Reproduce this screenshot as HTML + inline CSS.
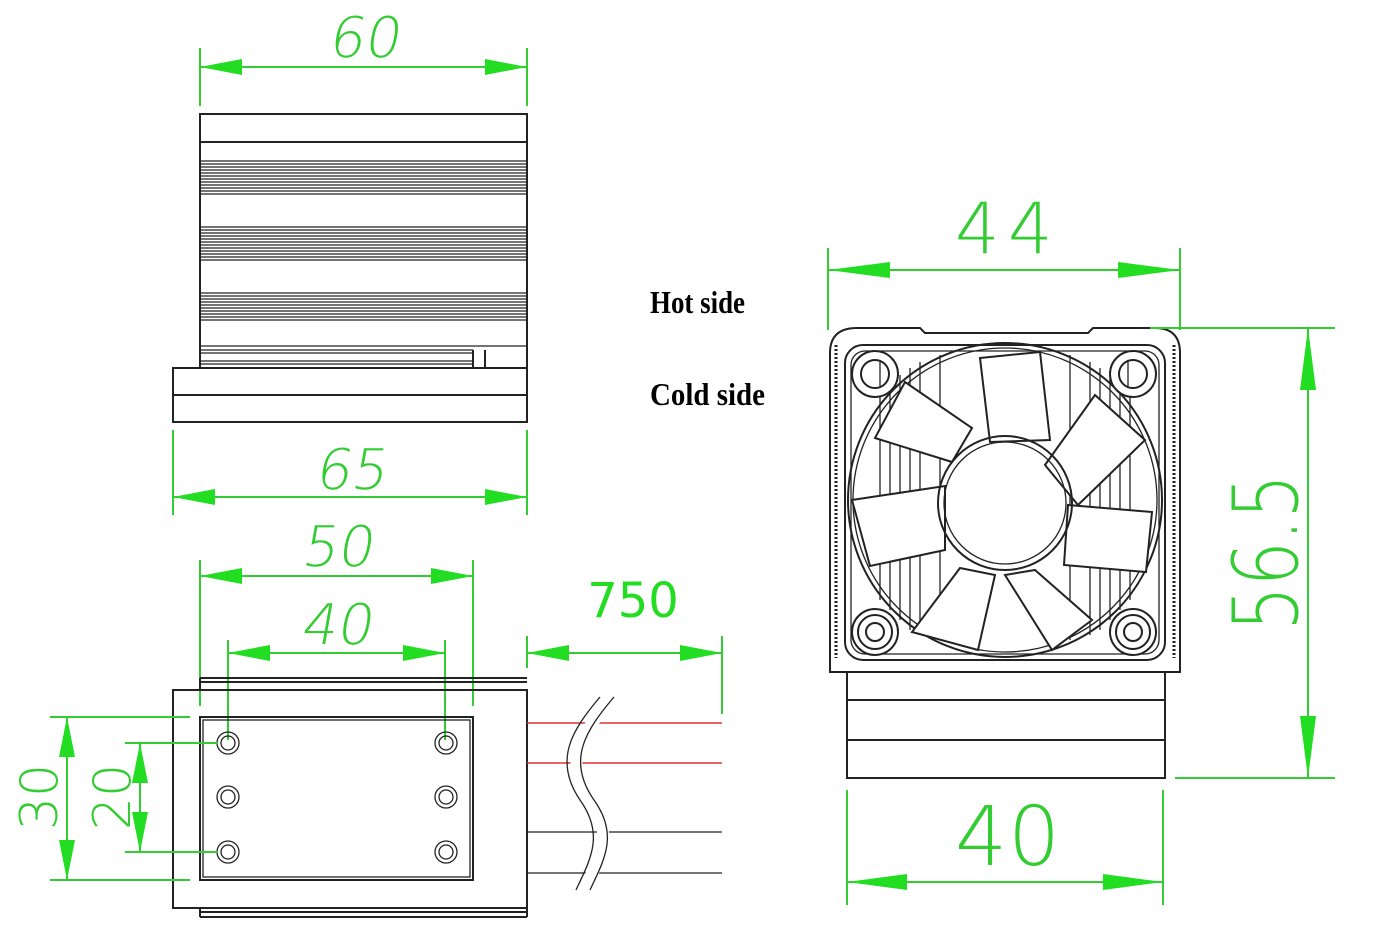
<!DOCTYPE html>
<html><head><meta charset="utf-8"><style>
html,body{margin:0;padding:0;background:#fff;}
svg{display:block}
.d{fill:#3c3;font-family:"DejaVu Sans","Liberation Sans",sans-serif;font-weight:200;font-size:52px;}
.g{stroke:#3c3;stroke-width:2;fill:none}
.a{fill:#2d2}
.k{stroke:#222;stroke-width:2;fill:none}
.t{stroke:#222;stroke-width:1.3;fill:none}
.h{font-family:"Liberation Serif",serif;font-weight:bold;font-size:32px;fill:#000}
</style></head><body>
<svg width="1384" height="930" viewBox="0 0 1384 930" xmlns="http://www.w3.org/2000/svg">
<!-- TOP VIEW -->
<rect x="200" y="114" width="327" height="254" class="k"/>
<line x1="200" y1="142" x2="527" y2="142" class="k"/>
<g class="t">
<path d="M200 161H527M200 164H527M200 167H527M200 170H527M200 173H527M200 176H527M200 179H527M200 182H527M200 185H527M200 188H527M200 191H527M200 194H527"/>
<path d="M200 227H527M200 230H527M200 233H527M200 236H527M200 239H527M200 242H527M200 245H527M200 248H527M200 251H527M200 254H527M200 257H527M200 260H527"/>
<path d="M200 293H527M200 296H527M200 299H527M200 302H527M200 305H527M200 308H527M200 311H527M200 314H527M200 317H527M200 320H527"/>
<path d="M200 346H527M200 350H473M200 353H473M200 361H473M200 364H473"/>
</g>
<path d="M473 350V368M485 350V368" class="k"/>
<rect x="173" y="368" width="354" height="54" class="k"/>
<line x1="173" y1="395" x2="527" y2="395" class="k"/>

<!-- dim 60 -->
<path d="M200 48V106M527 48V106M200 67H527" class="g"/>
<polygon class="a" points="200,67 242,59 242,75"/><polygon class="a" points="527,67 485,59 485,75"/>
<text class="d" x="363" y="57" text-anchor="middle" style="font-size:56px" transform="skewX(-10) translate(10,0)">60</text>
<!-- dim 65 -->
<path d="M173 430V515M527 430V515M173 497H527" class="g"/>
<polygon class="a" points="173,497 215,489 215,505"/><polygon class="a" points="527,497 485,489 485,505"/>
<text class="d" x="350" y="489" text-anchor="middle" style="font-size:56px" transform="skewX(-10) translate(86,0)">65</text>
<!-- dim 50 -->
<path d="M200 560V706M473 560V706M200 576H473" class="g"/>
<polygon class="a" points="200,576 242,568 242,584"/><polygon class="a" points="473,576 431,568 431,584"/>
<text class="d" x="336" y="566" text-anchor="middle" style="font-size:56px" transform="skewX(-10) translate(100,0)">50</text>
<!-- dim 40 -->
<path d="M228 640V740M445 640V740M228 653H445" class="g"/>
<polygon class="a" points="228,653 270,645 270,661"/><polygon class="a" points="445,653 403,645 403,661"/>
<text class="d" x="336" y="644" text-anchor="middle" style="font-size:56px" transform="skewX(-10) translate(113,0)">40</text>
<!-- dim 750 -->
<path d="M527 636V668M722 636V714M527 653H722" class="g"/>
<polygon class="a" points="527,653 569,645 569,661"/><polygon class="a" points="722,653 680,645 680,661"/>
<text x="633" y="617" text-anchor="middle" style="fill:#2d2;font-family:'DejaVu Sans','Liberation Sans',sans-serif;font-size:48px">750</text>

<!-- BOTTOM LEFT VIEW -->
<path d="M200 678H527M200 682H527M200 678V690" class="k"/>
<rect x="173" y="690" width="354" height="218" class="k"/>
<path d="M200 912H527M200 917H527M200 908V917M527 908V917" class="k"/>
<rect x="200" y="717" width="273" height="163" class="k"/>
<rect x="203" y="720" width="267" height="157" class="t"/>
<g class="t">
<circle cx="228" cy="743" r="11"/><circle cx="228" cy="743" r="7"/>
<circle cx="228" cy="797" r="11"/><circle cx="228" cy="797" r="7"/>
<circle cx="228" cy="852" r="11"/><circle cx="228" cy="852" r="7"/>
<circle cx="446" cy="743" r="11"/><circle cx="446" cy="743" r="7"/>
<circle cx="446" cy="797" r="11"/><circle cx="446" cy="797" r="7"/>
<circle cx="446" cy="852" r="11"/><circle cx="446" cy="852" r="7"/>
</g>
<path d="M527 723H722M527 763H722" stroke="#d33" stroke-width="1.5"/>
<path d="M527 832H722M527 873H722" class="t"/>
<path d="M613 697C585 730 560 760 590 800C615 835 600 860 583 890" stroke="#fff" stroke-width="12" fill="none"/>
<path d="M600 697C572 730 553 760 580 800C605 835 590 860 576 890M614 697C586 730 566 760 594 800C619 835 604 860 590 890" class="t"/>
<!-- dim 30 / 20 -->
<path d="M50 717H190M50 880H190M67 717V880M125 743H218M125 852H218M140 743V852" class="g"/>
<polygon class="a" points="67,717 59,757 75,757"/><polygon class="a" points="67,880 59,840 75,840"/>
<polygon class="a" points="140,743 132,783 148,783"/><polygon class="a" points="140,852 132,812 148,812"/>
<text class="d" x="0" y="0" text-anchor="middle" transform="translate(57,797) rotate(-90)">30</text>
<text class="d" x="0" y="0" text-anchor="middle" transform="translate(130,797) rotate(-90)">20</text>

<!-- labels -->
<text class="h" x="650" y="313" textLength="95" lengthAdjust="spacingAndGlyphs">Hot side</text>
<text class="h" x="650" y="405" textLength="115" lengthAdjust="spacingAndGlyphs">Cold  side</text>

<!-- RIGHT VIEW -->
<path d="M857 328H920L925 333H1088L1093 328H1155Q1180 328 1180 353V672H830V353Q830 328 857 328Z" class="k"/>
<path d="M836 345V658M1174 345V658" stroke="#222" stroke-width="3" stroke-dasharray="2 2"/>
<rect x="845" y="345" width="320" height="315" rx="18" class="k"/>
<rect x="851" y="351" width="308" height="303" rx="14" class="t"/>
<circle cx="1005" cy="500" r="157" class="k"/>
<circle cx="1005" cy="500" r="152" class="t"/>
<g class="t">
<path d="M880 395V600M890 385V610M900 375V620M910 368V630M920 362V635M940 355V640M1070 355V640M1090 362V635M1100 368V630M1110 375V620M1120 385V610M1130 395V600"/>
</g>
<g class="k">
<polygon points="980,358 1040,352 1050,440 990,442" fill="#fff"/>
<polygon points="1095,395 1145,440 1078,505 1045,465" fill="#fff"/>
<polygon points="1068,505 1152,512 1146,572 1064,565" fill="#fff"/>
<polygon points="1035,570 1092,620 1052,650 1005,575" fill="#fff"/>
<polygon points="960,568 995,575 978,650 912,632" fill="#fff"/>
<polygon points="945,550 870,566 852,500 945,486" fill="#fff"/>
<polygon points="952,462 875,438 905,382 972,428" fill="#fff"/>
</g>
<circle cx="1005" cy="503" r="67" class="k" fill="#fff"/>
<circle cx="1005" cy="503" r="61" class="t"/>
<g class="k">
<circle cx="875" cy="374" r="23" fill="#fff"/><circle cx="875" cy="374" r="14"/>
<circle cx="1133" cy="374" r="23" fill="#fff"/><circle cx="1133" cy="374" r="14"/>
<circle cx="875" cy="632" r="23" fill="#fff"/><circle cx="875" cy="632" r="17"/><circle cx="875" cy="632" r="9"/>
<circle cx="1133" cy="632" r="23" fill="#fff"/><circle cx="1133" cy="632" r="17"/><circle cx="1133" cy="632" r="9"/>
</g>
<path d="M880 362V386M1128 362V386" class="t"/>
<rect x="847" y="672" width="318" height="106" class="k"/>
<path d="M847 700H1165M847 740H1165" class="k"/>
<!-- dim 44 -->
<path d="M828 248V330M1180 248V330M828 270H1180" class="g"/>
<polygon class="a" points="828,270 890,262 890,278"/><polygon class="a" points="1180,270 1118,262 1118,278"/>
<text class="d" x="955" y="253" style="font-size:70px">4</text>
<text class="d" x="1008" y="253" style="font-size:70px">4</text>
<!-- dim 56.5 -->
<path d="M1150 328H1335M1175 778H1335M1308 328V778" class="g"/>
<polygon class="a" points="1308,328 1300,390 1316,390"/><polygon class="a" points="1308,778 1300,716 1316,716"/>
<text class="d" x="-78" y="0" style="font-size:90px" textLength="157" lengthAdjust="spacingAndGlyphs" transform="translate(1297,553) rotate(-90)">56.5</text>
<!-- dim 40 right -->
<path d="M847 790V905M1163 790V905M847 882H1163" class="g"/>
<polygon class="a" points="847,882 907,874 907,890"/><polygon class="a" points="1163,882 1103,874 1103,890"/>
<text class="d" x="955" y="865" style="font-size:82px">4</text>
<text class="d" x="1008" y="865" style="font-size:82px">0</text>
</svg>
</body></html>
